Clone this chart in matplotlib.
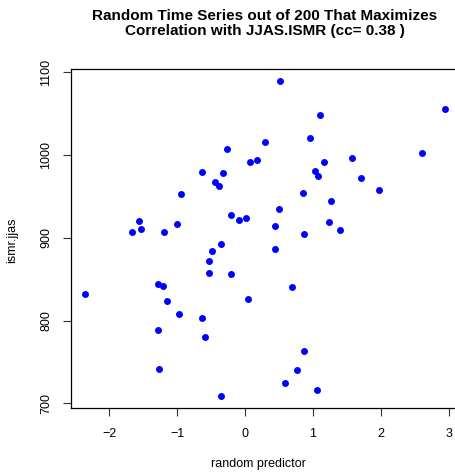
import matplotlib
matplotlib.use("Agg")
import matplotlib.pyplot as plt

# random predictor values (x) and JJAS ISMR (y)
predictor = [
    -0.26, 0.07, 0.18, -0.64, -0.32, -0.45, -0.38, -0.94, -0.21, -0.09,
    0.02, -1.56, -1.54, -1.66, -1.19, -1.00,
    0.51, 1.11, 2.94, 0.30, 0.95, 1.16, 1.58, 1.03, 1.075, 1.71,
    2.61, 1.98, 0.86, 1.27, 0.505, 0.44, 1.24, 1.40, 0.87,
    -0.36, -0.48, -0.53, -0.53, -0.20, -2.36, -1.28, -1.21, -1.15, -0.98,
    -0.63, -1.29, -0.59, 0.05, -1.27, -0.36,
    0.44, 0.69, 0.87, 0.76, 0.59, 1.065,
]
ismr = [
    1007, 991, 994, 979, 978, 968, 963, 953, 928, 921,
    923.5, 920, 910, 906.5, 907, 917,
    1089, 1048, 1056, 1016, 1021, 991.5, 996, 981, 975, 972,
    1003, 958, 954.5, 944, 935, 914, 919, 909, 904,
    893, 884, 872, 857, 856.6, 832.4, 844.5, 842, 824, 807.5,
    802.6, 789, 780, 826, 742, 709,
    887, 840, 763, 740, 724, 716,
]
xticks = [-2, -1, 0, 1, 2, 3]
yticks = [700, 800, 900, 1000, 1100]

plt.rcParams["font.family"] = ["Liberation Sans", "DejaVu Sans"]

W, H = 456, 473
fig = plt.figure(figsize=(W / 100, H / 100), dpi=100)
# plot region runs slightly past the right edge, as in the reference
left, right, top, bottom = 70.5, 459.0, 68.8, 408.4
ax = fig.add_axes([left / W, (H - bottom) / H, (right - left) / W, (bottom - top) / H])

ax.plot(predictor, ismr, "o", color="#0000ff", markersize=5, markeredgewidth=0)

# R-style 4% padding around the data range
xr = max(predictor) - min(predictor)
yr = max(ismr) - min(ismr)
ax.set_xlim(min(predictor) - 0.04 * xr, max(predictor) + 0.04 * xr)
ax.set_ylim(min(ismr) - 0.04 * yr, max(ismr) + 0.04 * yr)

ax.set_xticks(xticks)
ax.set_xticklabels(["\u22122", "\u22121", "0", "1", "2", "3"])
ax.set_yticks(yticks)
ax.set_yticklabels([str(v) for v in yticks], rotation=90, va="center")
ax.tick_params(direction="out", length=5.8, width=0.8, labelsize=9, color="#333333")
ax.tick_params(axis="x", pad=8)
ax.tick_params(axis="y", pad=7.5)
for s in ax.spines.values():
    s.set_linewidth(0.9)

fig.text(264.5 / W, 1 - 20 / H, "Random Time Series out of 200 That Maximizes",
         ha="center", va="baseline", fontsize=11, fontweight="bold")
fig.text(264.5 / W, 1 - 35 / H, "Correlation with JJAS.ISMR (cc= 0.38 )",
         ha="center", va="baseline", fontsize=11, fontweight="bold")
fig.text(258 / W, 1 - 466.7 / H, "random predictor", ha="center", va="baseline", fontsize=9)
fig.text(12 / W, 1 - 240 / H, "ismr.jjas", ha="center", va="center", rotation=90, fontsize=9)

fig.savefig("out.png", dpi=100)
